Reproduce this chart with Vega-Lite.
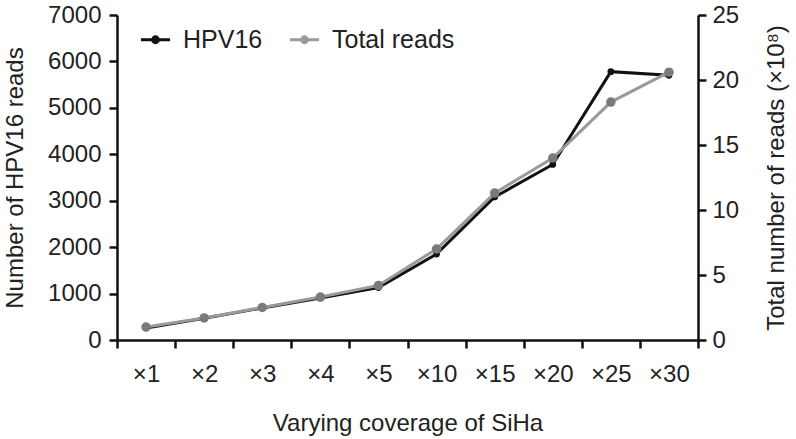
{
  "$schema": "https://vega.github.io/schema/vega-lite/v6.json",
  "width": 581,
  "height": 325,
  "autosize": {"type": "none"},
  "padding": {"left": 117, "top": 15, "right": 98, "bottom": 99},
  "background": "white",
  "config": {
    "view": {"stroke": null},
    "font": "Liberation Sans",
    "axis": {
      "domainColor": "#111", "domainWidth": 2.5, "tickColor": "#111", "tickWidth": 2.5, "tickSize": 8,
      "labelFontSize": 24, "labelColor": "#222", "titleFontSize": 24, "titleFontWeight": "normal", "titleColor": "#222", "grid": false
    }
  },
  "data": {
    "values": [
      {"cov": "×1", "hpv": 260, "total": 1.0},
      {"cov": "×2", "hpv": 470, "total": 1.7},
      {"cov": "×3", "hpv": 690, "total": 2.5},
      {"cov": "×4", "hpv": 905, "total": 3.3},
      {"cov": "×5", "hpv": 1130, "total": 4.2},
      {"cov": "×10", "hpv": 1850, "total": 7.0},
      {"cov": "×15", "hpv": 3080, "total": 11.3},
      {"cov": "×20", "hpv": 3780, "total": 14.0},
      {"cov": "×25", "hpv": 5780, "total": 18.3},
      {"cov": "×30", "hpv": 5700, "total": 20.6}
    ]
  },
  "encoding": {
    "x": {
      "field": "cov", "type": "nominal", "sort": null, "bandPosition": 0.5,
      "scale": {"type": "band", "paddingInner": 0, "paddingOuter": 0},
      "axis": {"title": "Varying coverage of SiHa", "labelAngle": 0, "tickBand": "extent", "labelPadding": 14, "titlePadding": 25}
    }
  },
  "layer": [
    {
      "encoding": {
        "y": {"field": "hpv", "type": "quantitative", "scale": {"domain": [0, 7000], "nice": false},
          "axis": {"orient": "left", "title": "Number of HPV16 reads", "format": "d", "values": [0,1000,2000,3000,4000,5000,6000,7000], "labelPadding": 8, "titlePadding": 20}}
      },
      "layer": [
        {"mark": {"type": "line", "strokeWidth": 3},
         "encoding": {"color": {"datum": "HPV16", "scale": {"domain": ["HPV16", "Total reads"], "range": ["#111111", "#9a9a9a"]},
           "legend": {"title": null, "orient": "none", "legendX": 22, "legendY": 8, "direction": "horizontal", "labelFontSize": 25, "labelColor": "#222", "symbolType": "M-1,0H1M-0.2,0a0.2,0.2 0 1,0 0.4,0a0.2,0.2 0 1,0 -0.4,0", "symbolSize": 850, "symbolStrokeWidth": 3, "columnPadding": 20, "labelOffset": 11,
             "encode": {"symbols": {"update": {"fill": {"scale": "color", "field": "value"}}}}}}}},
        {"mark": {"type": "circle", "size": 45, "opacity": 1, "color": "#111111"}, "encoding": {}}
      ]
    },
    {
      "encoding": {
        "y": {"field": "total", "type": "quantitative", "scale": {"domain": [0, 25], "nice": false},
          "axis": {"orient": "right", "title": "Total number of reads (×10⁸)", "titleAngle": 270, "titleBaseline": "top", "values": [0,5,10,15,20,25], "labelPadding": 6, "titlePadding": 26}}
      },
      "layer": [
        {"mark": {"type": "line", "strokeWidth": 3},
         "encoding": {"color": {"datum": "Total reads"}}},
        {"mark": {"type": "circle", "size": 90, "opacity": 1, "color": "#7a7a7a"}, "encoding": {}}
      ]
    }
  ],
  "resolve": {"scale": {"y": "independent"}, "axis": {"y": "independent"}}
}
